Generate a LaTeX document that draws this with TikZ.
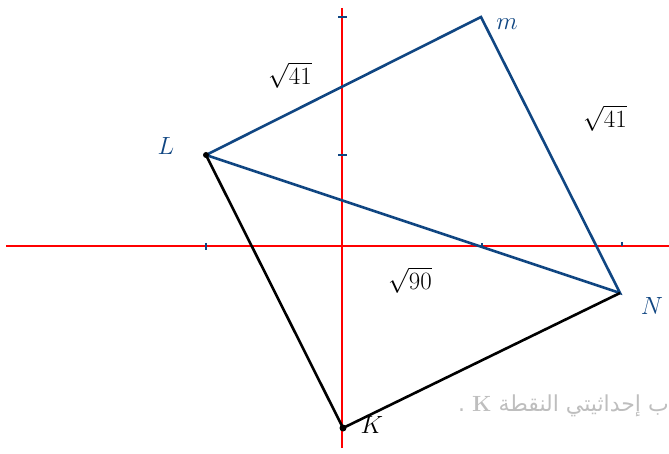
\documentclass[tikz,border=0pt]{standalone}
\usepackage{fontspec}
\newfontfamily\arabicfont[Script=Arabic]{DejaVu Sans}
\TeXXeTstate=1
\definecolor{penblue}{RGB}{16,70,130}
\definecolor{fadegray}{RGB}{190,190,190}

\begin{document}
\begin{tikzpicture}[x=1pt,y=-1pt,
  axis/.style={red,line width=2.8pt},
  side/.style={penblue,line width=2.6pt},
  blackside/.style={black,line width=2.6pt},
  tick/.style={penblue,line width=1.8pt},
  ptlabel/.style={penblue,font=\fontsize{24}{24}\selectfont},
  lenlabel/.style={black,font=\fontsize{28}{28}\selectfont}]
  \useasboundingbox (0,0) rectangle (669,454);

  % axes
  \coordinate (xl) at (6,246);
  \coordinate (xr) at (669,246);
  \coordinate (yt) at (342,8);
  \coordinate (yb) at (342,448);
  \draw[axis] (xl) -- (xr);
  \draw[axis] (yt) -- (yb);

  % ticks
  \draw[tick] (206,243) -- (206,250);
  \draw[tick] (482,243) -- (482,247);
  \draw[tick] (622,242) -- (622,246);
  \draw[tick] (338,17) -- (347,17);
  \draw[tick] (338,155) -- (347,155);

  % vertices
  \coordinate (L) at (206,155);
  \coordinate (M) at (481,17);
  \coordinate (N) at (620,293);
  \coordinate (K) at (343,428);

  % sides
  \draw[side] (L) -- (M) -- (N) -- (L);
  \draw[blackside] (L) -- (K) -- (N);
  \fill (L) circle (3pt);
  \fill (K) circle (3.5pt);

  % vertex labels
  \node[ptlabel] (labL) at (166,146) {$L$};
  \node[ptlabel] (labM) at (507,24) {$m$};
  \node[ptlabel] (labN) at (652,306) {$N$};
  \node[black,font=\fontsize{24}{24}\selectfont] (labK) at (372,425) {$K$};

  % lengths
  \node[lenlabel] (lenLM) at (290,75) {$\sqrt{41}$};
  \node[lenlabel] (lenMN) at (605,118) {$\sqrt{41}$};
  \node[lenlabel] (lenLN) at (410,280) {$\sqrt{90}$};

  % faded question text
  \node[fadegray,anchor=east,inner sep=0pt,font=\fontsize{22}{22}\selectfont] (question) at (669,406)
    {\arabicfont\beginR ب إحداثيتي النقطة \beginL{\normalfont\bfseries K}\endL{} .\endR};
\end{tikzpicture}
\end{document}
